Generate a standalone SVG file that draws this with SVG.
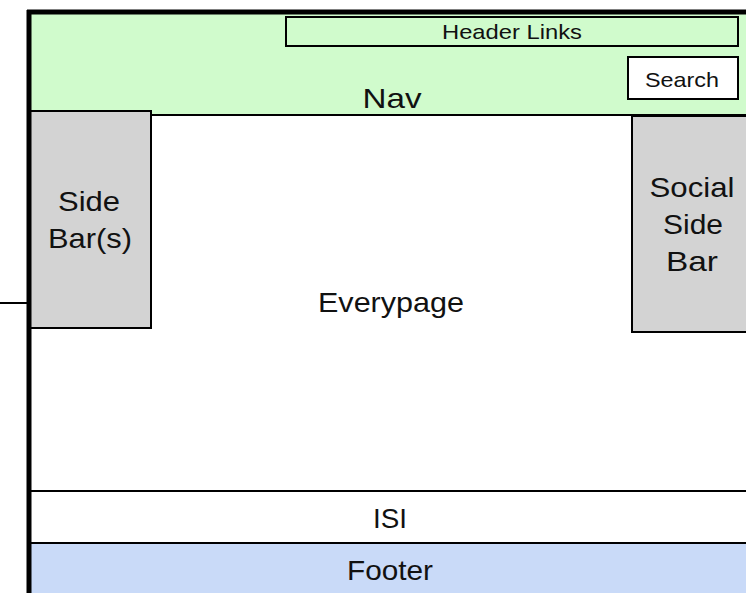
<svg xmlns="http://www.w3.org/2000/svg" width="746" height="593" viewBox="0 0 746 593">
<style>
text{font-family:"Liberation Sans",Arial,sans-serif;fill:#111;text-anchor:middle}
.box{stroke:#000;stroke-width:2}
.big{font-size:28px}
</style>
<rect width="746" height="593" fill="#fff"/>
<g id="everypage">
<rect x="29" y="12" width="730" height="600" fill="#fff"/>
<text class="big" x="391" y="312" textLength="146" lengthAdjust="spacingAndGlyphs">Everypage</text>
</g>
<g id="nav">
<rect class="box" x="29" y="12" width="730" height="103" fill="#d0fbcc"/>
<text class="big" x="392" y="108" textLength="59" lengthAdjust="spacingAndGlyphs">Nav</text>
</g>
<g id="header-links">
<rect class="box" x="286" y="17" width="452" height="29" fill="#d0fbcc"/>
<text x="512" y="39" font-size="21" textLength="140" lengthAdjust="spacingAndGlyphs">Header Links</text>
</g>
<g id="search">
<rect class="box" x="628" y="57" width="110" height="42" fill="#fff"/>
<text x="682" y="87" font-size="21" textLength="74" lengthAdjust="spacingAndGlyphs">Search</text>
</g>
<g id="sidebar">
<rect class="box" x="30" y="111" width="121" height="217" fill="#d3d3d3"/>
<text class="big" x="89" y="211" textLength="62" lengthAdjust="spacingAndGlyphs">Side</text>
<text class="big" x="90" y="248" textLength="84" lengthAdjust="spacingAndGlyphs">Bar(s)</text>
</g>
<g id="social">
<rect class="box" x="632" y="116" width="130" height="216" fill="#d3d3d3"/>
<text class="big" x="692" y="197" textLength="85" lengthAdjust="spacingAndGlyphs">Social</text>
<text class="big" x="693" y="234" textLength="60" lengthAdjust="spacingAndGlyphs">Side</text>
<text class="big" x="692" y="271" textLength="52" lengthAdjust="spacingAndGlyphs">Bar</text>
</g>
<g id="isi">
<rect class="box" x="29" y="491" width="730" height="52" fill="#fff"/>
<text class="big" x="390" y="528" textLength="34" lengthAdjust="spacingAndGlyphs">ISI</text>
</g>
<g id="footer">
<rect class="box" x="29" y="543" width="730" height="60" fill="#c9daf8"/>
<text class="big" x="390" y="580" textLength="86" lengthAdjust="spacingAndGlyphs">Footer</text>
</g>
<g id="connectors" stroke="#000" fill="none">
<line x1="27" y1="12" x2="746" y2="12" stroke-width="5"/>
<line x1="29" y1="10" x2="29" y2="593" stroke-width="5"/>
<line x1="0" y1="303" x2="28" y2="303" stroke-width="2"/>
</g>
</svg>
